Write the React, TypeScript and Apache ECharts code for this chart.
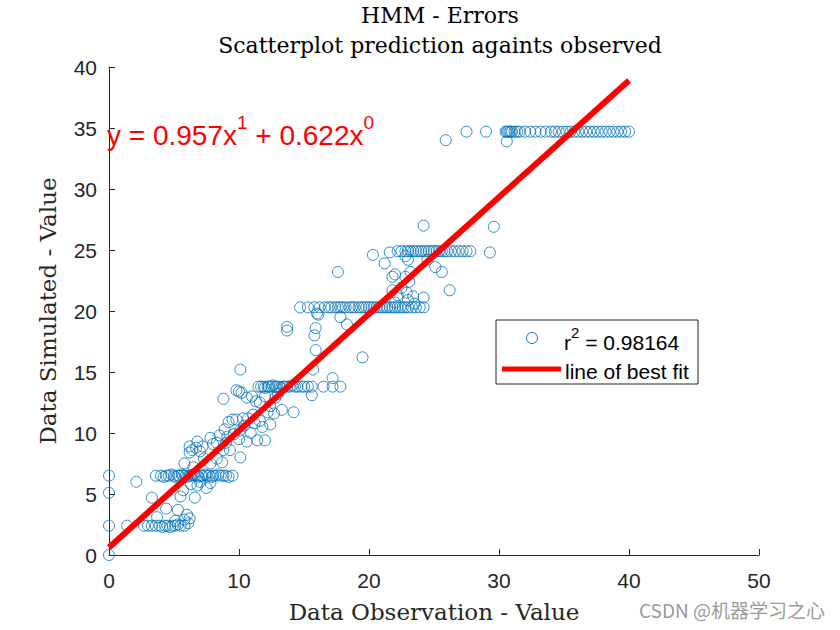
import React, { useEffect, useRef } from "react";
import * as echarts from "echarts";

// ---- data (observed, simulated) ----
const edgePoints: number[][] = [
  [0, 0], [0, 2.4], [0, 5.1], [0, 6.5], [1.4, 2.4], [2.1, 6.0],
];

const lowBand: number[][] = [
  [2.7, 2.4], [3.0, 2.4], [3.3, 2.4], [3.6, 2.4], [3.9, 2.4], [4.1, 2.3], [4.3, 2.4],
  [4.5, 2.4], [4.7, 2.3], [4.9, 2.4], [5.1, 2.4], [5.3, 2.5], [5.5, 2.4], [5.8, 2.4],
  [6.1, 2.6], [6.2, 3.0], [6.0, 3.3], [5.8, 2.9], [5.3, 3.7], [4.4, 3.8], [3.7, 3.1],
  [3.3, 4.7], [5.5, 4.8], [6.6, 4.7], [5.1, 2.8],
];

const sixBand: number[][] = [
  [3.6, 6.5], [4.0, 6.5], [4.2, 6.4], [4.4, 6.5], [4.6, 6.5], [4.8, 6.6], [5.0, 6.5],
  [5.1, 6.4], [5.3, 6.5], [5.4, 6.5], [5.6, 6.6], [5.7, 6.5], [5.9, 6.5], [6.0, 6.4],
  [6.2, 6.5], [6.3, 6.5], [6.5, 6.6], [6.6, 6.5], [6.8, 6.5], [6.9, 6.4], [7.1, 6.5],
  [7.2, 6.5], [7.4, 6.6], [7.5, 6.5], [7.7, 6.5], [7.9, 6.4], [8.0, 6.5], [8.2, 6.5],
  [8.4, 6.6], [8.6, 6.5], [8.8, 6.5], [9.0, 6.5], [9.2, 6.4], [9.5, 6.5],
  [6.8, 5.7], [7.5, 5.5], [5.7, 5.3], [7.8, 5.9], [6.3, 5.8], [7.0, 6.0],
];

const rampPoints: number[][] = [
  [5.8, 7.5], [6.2, 8.4], [6.4, 8.6], [6.7, 8.8], [6.2, 8.9], [6.5, 7.2], [7.0, 8.5],
  [7.2, 8.9], [7.3, 7.9], [7.8, 7.5], [8.3, 7.9], [8.7, 7.6], [8.0, 9.1], [8.3, 9.2],
  [6.8, 9.3], [7.8, 9.6], [8.5, 9.8], [9.1, 9.7], [9.0, 9.2], [9.3, 8.6], [8.8, 8.6],
  [10.1, 8.0], [9.6, 9.9], [10.0, 9.5], [10.6, 9.3], [11.4, 9.4], [12.0, 9.4],
  [10.1, 10.2], [10.9, 10.0], [10.4, 10.6], [8.9, 10.3], [9.2, 10.9], [9.5, 11.1],
  [9.8, 11.1], [10.3, 11.2], [10.7, 11.2], [11.1, 11.5], [11.2, 10.8], [11.6, 11.0],
  [11.8, 10.5], [12.4, 10.7], [12.2, 11.7], [12.7, 11.6], [13.3, 11.9], [14.2, 11.7],
  [8.8, 12.8], [10.6, 12.9], [11.0, 13.0], [11.3, 12.6], [11.6, 12.5], [12.0, 13.0],
  [12.4, 12.2], [12.8, 12.9], [13.0, 13.2], [10.2, 13.3], [10.0, 13.4], [9.8, 13.5],
  [10.1, 15.2],
];

const midBand: number[][] = [
  [11.5, 13.8], [11.7, 13.8], [11.9, 13.8], [12.0, 13.7], [12.2, 13.8], [12.3, 13.8],
  [12.5, 13.8], [12.6, 13.9], [12.8, 13.8], [12.9, 13.8], [13.1, 13.8], [13.2, 13.7],
  [13.4, 13.8], [13.5, 13.8], [13.7, 13.8], [13.9, 13.8], [14.1, 13.9], [14.3, 13.8],
  [14.5, 13.8], [14.8, 13.8], [15.0, 13.8], [15.3, 13.8], [15.6, 13.8], [16.5, 13.8],
  [17.2, 13.8], [17.8, 13.8], [17.2, 14.5], [15.6, 13.1], [15.7, 15.2], [13.7, 18.4],
];

const upperBand: number[][] = [
  [14.7, 20.3], [15.3, 20.3], [15.8, 20.3], [16.2, 20.3], [16.6, 20.3], [16.9, 20.3],
  [17.1, 20.3], [17.4, 20.3], [17.6, 20.3], [17.8, 20.3], [18.0, 20.3], [18.2, 20.3],
  [18.5, 20.3], [18.7, 20.3], [18.9, 20.3], [19.2, 20.3], [19.4, 20.3], [19.6, 20.3],
  [19.8, 20.3], [20.0, 20.3], [20.2, 20.3], [20.4, 20.3], [20.6, 20.3], [20.8, 20.3],
  [21.0, 20.3], [21.2, 20.3], [21.4, 20.3], [21.6, 20.3], [21.8, 20.3], [22.0, 20.3],
  [22.2, 20.3], [22.4, 20.3], [22.6, 20.3], [22.8, 20.3], [23.0, 20.3], [23.3, 20.3],
  [23.6, 20.3], [23.9, 20.3], [24.2, 20.3],
  [13.7, 18.7], [15.9, 18.6], [16.0, 19.8], [16.1, 19.7], [17.8, 19.5], [18.3, 18.9],
  [15.9, 16.8], [15.8, 18.0], [19.5, 16.2], [17.6, 23.2], [21.8, 21.7], [22.9, 21.5],
  [24.2, 21.1], [23.0, 20.9], [22.5, 21.9], [23.1, 22.4], [22.8, 22.8], [23.4, 21.2],
  [22.0, 20.7], [23.5, 20.6], [22.2, 21.3],
];

const highBand: number[][] = [
  [20.3, 24.6], [21.6, 24.8], [22.2, 24.9], [22.5, 24.9], [22.8, 24.9], [23.0, 24.9],
  [23.2, 24.9], [23.4, 24.9], [23.6, 24.9], [23.8, 24.9], [24.0, 24.9], [24.2, 24.9],
  [24.4, 24.9], [24.6, 24.9], [24.8, 24.9], [25.0, 24.9], [25.2, 24.9], [25.4, 24.9],
  [25.6, 24.9], [25.8, 24.9], [26.0, 24.9], [26.3, 24.9], [26.6, 24.9], [26.9, 24.9],
  [27.2, 24.9], [27.5, 24.9], [27.8, 24.9],
  [21.2, 23.9], [21.8, 22.8], [22.0, 23.0], [23.2, 23.2], [25.1, 23.6], [25.6, 23.2],
  [26.2, 21.7], [24.2, 27.0], [29.6, 26.9], [29.3, 24.8], [23.0, 24.2], [24.5, 24.2],
  [22.8, 24.5],
];

const topBand: number[][] = [
  [25.9, 34.0], [27.5, 34.7], [29.0, 34.7], [30.6, 33.9],
  [30.5, 34.7], [30.6, 34.7], [30.7, 34.7], [30.8, 34.7], [30.9, 34.7], [31.0, 34.7],
  [31.2, 34.7], [31.4, 34.7], [31.6, 34.7], [32.0, 34.7], [32.4, 34.7], [32.8, 34.7],
  [33.2, 34.7], [33.6, 34.7], [34.0, 34.7], [34.3, 34.7], [34.6, 34.7], [34.9, 34.7],
  [35.2, 34.7], [35.5, 34.7], [35.8, 34.7], [36.1, 34.7], [36.4, 34.7], [36.7, 34.7],
  [37.0, 34.7], [37.3, 34.7], [37.6, 34.7], [37.9, 34.7], [38.2, 34.7], [38.5, 34.7],
  [38.8, 34.7], [39.1, 34.7], [39.4, 34.7], [39.7, 34.7], [40.0, 34.7],
];

const fitSlope = 0.957;
const fitIntercept = 0.622;
const fitRange = [0, 40];
const rSquared = "0.98164";

const xTicks = [0, 10, 20, 30, 40, 50];
const yTicks = [0, 5, 10, 15, 20, 25, 30, 35, 40];

export default function App() {
  const ref = useRef<HTMLDivElement>(null);
  useEffect(() => {
    if (!ref.current) return;
    const chart = echarts.init(ref.current, undefined, { renderer: "svg" });
    const points = [
      ...edgePoints, ...lowBand, ...sixBand, ...rampPoints, ...midBand,
      ...upperBand, ...highBand, ...topBand,
    ];
    const fitLine = fitRange.map((x) => [x, fitSlope * x + fitIntercept]);
    const axisColor = "#262626";
    const sans = "Liberation Sans, Arial, sans-serif";
    const serif = "DejaVu Serif, serif";
    chart.setOption({
      animation: false,
      backgroundColor: "#ffffff",
      title: [
        {
          text: "HMM - Errors",
          left: 435, top: -1, textAlign: "center",
          textStyle: { fontFamily: serif, fontWeight: "normal", fontSize: 22, color: "#000" },
        },
        {
          text: "Scatterplot prediction againts observed",
          left: 435, top: 29, textAlign: "center",
          textStyle: { fontFamily: serif, fontWeight: "normal", fontSize: 22, color: "#000" },
        },
      ],
      grid: { left: 109, right: 81, top: 67, bottom: 75, containLabel: false },
      xAxis: {
        type: "value",
        min: xTicks[0], max: xTicks[xTicks.length - 1], interval: 10,
        name: "Data Observation - Value",
        nameLocation: "middle", nameGap: 45,
        nameTextStyle: { fontFamily: serif, fontSize: 23, color: axisColor },
        axisLine: { show: true, lineStyle: { color: axisColor, width: 1 } },
        axisTick: { show: true, inside: true, length: 6, lineStyle: { color: axisColor } },
        axisLabel: { fontFamily: sans, fontSize: 21, color: axisColor, margin: 15 },
        splitLine: { show: false },
      },
      yAxis: {
        type: "value",
        min: yTicks[0], max: yTicks[yTicks.length - 1], interval: 5,
        name: "Data Simulated - Value",
        nameLocation: "middle", nameGap: 50,
        nameTextStyle: { fontFamily: serif, fontSize: 23, color: axisColor },
        axisLine: { show: true, lineStyle: { color: axisColor, width: 1 } },
        axisTick: { show: true, inside: true, length: 6, lineStyle: { color: axisColor } },
        axisLabel: { fontFamily: sans, fontSize: 21, color: axisColor, margin: 12 },
        splitLine: { show: false },
      },
      series: [
        {
          type: "scatter",
          data: points,
          symbol: "circle",
          symbolSize: 11,
          itemStyle: { color: "rgba(0,0,0,0)", borderColor: "#0072BD", borderWidth: 1 },
          z: 2,
        },
        {
          type: "line",
          data: fitLine,
          symbol: "none",
          lineStyle: { color: "#ff0000", width: 6 },
          z: 3,
        },
      ],
      graphic: [
        {
          type: "text",
          x: 107, y: 113,
          z: 10,
          style: {
            text: "{m|y = 0.957x}{s|1}{m| + 0.622x}{s|0}",
            rich: {
              m: { fontFamily: sans, fontSize: 28, fill: "#ff0000", verticalAlign: "bottom", lineHeight: 36 },
              s: { fontFamily: sans, fontSize: 19, fill: "#ff0000", verticalAlign: "top", lineHeight: 19 },
            },
          },
        },
        {
          type: "rect",
          shape: { x: 496, y: 320, width: 202, height: 64 },
          style: { fill: "#ffffff", stroke: "#262626", lineWidth: 1 },
          z: 10,
        },
        {
          type: "circle",
          shape: { cx: 532, cy: 338, r: 5.5 },
          style: { fill: "none", stroke: "#0072BD", lineWidth: 1 },
          z: 11,
        },
        {
          type: "text",
          x: 564, y: 325,
          z: 11,
          style: {
            text: "{m|r}{s|2}{m| = " + rSquared + "}",
            rich: {
              m: { fontFamily: sans, fontSize: 21, fill: "#000", verticalAlign: "bottom", lineHeight: 28 },
              s: { fontFamily: sans, fontSize: 15, fill: "#000", verticalAlign: "top", lineHeight: 15 },
            },
          },
        },
        {
          type: "line",
          shape: { x1: 502, y1: 369, x2: 561, y2: 369 },
          style: { stroke: "#ff0000", lineWidth: 5 },
          z: 11,
        },
        {
          type: "text",
          x: 565, y: 371,
          z: 11,
          style: {
            text: "line of best fit",
            fontFamily: sans, fontSize: 21, fill: "#000",
            verticalAlign: "middle",
          },
        },
        {
          type: "text",
          x: 639, y: 609,
          z: 11,
          style: {
            text: "CSDN @机器学习之心",
            fontFamily: "Noto Sans CJK SC, sans-serif", fontSize: 19, fill: "#9a9a9a",
            verticalAlign: "middle",
          },
        },
      ],
    });
    return () => chart.dispose();
  }, []);
  return <div ref={ref} style={{ width: 840, height: 630, position: "absolute", left: 0, top: 0 }} />;
}
